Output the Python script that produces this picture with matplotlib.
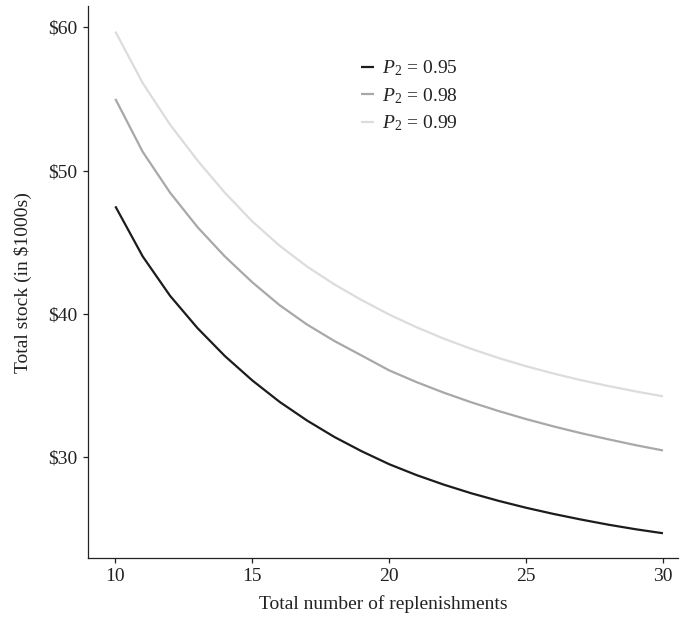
import matplotlib
matplotlib.use('Agg')
import matplotlib.pyplot as plt
from matplotlib.ticker import FuncFormatter

plt.rcParams['font.family'] = ['Liberation Serif', 'DejaVu Serif']
plt.rcParams['mathtext.fontset'] = 'custom'
plt.rcParams['mathtext.rm'] = 'Liberation Serif'
plt.rcParams['mathtext.it'] = 'Liberation Serif:italic'
plt.rcParams['font.size'] = 14

# replenishments
n = list(range(10, 31))

# total stock (in $1000s)
stock_95 = [47.5, 44.0, 41.25, 39.0, 37.05, 35.35, 33.85, 32.55, 31.4, 30.4, 29.5,
            28.74, 28.07, 27.47, 26.94, 26.46, 26.03, 25.64, 25.28, 24.96, 24.68]
stock_98 = [55.0, 51.3, 48.45, 46.05, 44.0, 42.2, 40.6, 39.25, 38.1, 37.08, 36.05,
            35.23, 34.49, 33.82, 33.21, 32.65, 32.14, 31.67, 31.24, 30.83, 30.46]
stock_99 = [59.7, 56.1, 53.2, 50.7, 48.45, 46.45, 44.75, 43.3, 42.05, 40.95, 39.95,
            39.06, 38.26, 37.55, 36.91, 36.34, 35.83, 35.37, 34.96, 34.58, 34.24]

labels = [r'$P_2\,=\,0.95$', r'$P_2\,=\,0.98$', r'$P_2\,=\,0.99$']
colors = ['#1c1c1c', '#a8a8a8', '#dcdcdc']

fig = plt.figure(figsize=(6.81, 6.21), dpi=100)
ax = fig.add_axes([0.129, 0.1014, 0.8666, 0.8886])

for ys, lab, c in zip([stock_95, stock_98, stock_99], labels, colors):
    ax.plot(n, ys, color=c, lw=1.6, label=lab, solid_capstyle='butt')

ax.set_xlim(8.995, 30.55)
ax.set_ylim(22.95, 61.47)
ax.set_xticks([10, 15, 20, 25, 30])
ax.set_yticks([30, 40, 50, 60])
ax.yaxis.set_major_formatter(FuncFormatter(lambda v, p: r'\$%d' % v))

for s in ['top', 'right']:
    ax.spines[s].set_visible(False)
for s in ['left', 'bottom']:
    ax.spines[s].set_linewidth(0.9)
    ax.spines[s].set_color('#222222')
ax.tick_params(length=3.5, width=0.9, color='#222222', labelcolor='#222222',
               labelsize=14, pad=4)

ax.set_xlabel('Total number of replenishments', color='#222222', labelpad=7)
ax.set_ylabel('Total stock (in $1000s)', color='#222222', labelpad=12)

ax.legend(loc='upper left', bbox_to_anchor=(0.434, 0.937), frameon=False,
          handlelength=0.62, handletextpad=0.46, labelspacing=0.4,
          fontsize=14, labelcolor='#222222')

fig.savefig('out.png', dpi=100)
